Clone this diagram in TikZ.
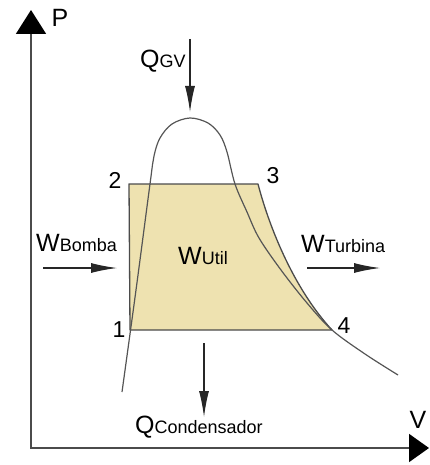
\documentclass[tikz,border=0pt]{standalone}
\usepackage{fontspec}
\setmainfont{Liberation Sans}
\usepackage{tikz}
\usetikzlibrary{arrows.meta}
\definecolor{CycleFill}{RGB}{238,226,176}
\definecolor{AxisGray}{RGB}{75,75,75}
\definecolor{CurveGray}{RGB}{85,85,85}
\newcommand{\bigsz}{\fontsize{25pt}{25pt}\selectfont}
\newcommand{\smallsz}{\fontsize{18pt}{18pt}\selectfont}
\newcommand{\flux}[2]{{\bigsz #1}{\smallsz #2}}
\tikzset{
  axis/.style={draw=AxisGray,line width=1.8pt,
    {Triangle[length=24pt,width=30pt,black]}-{Triangle[length=20pt,width=28pt,black]}},
  work/.style={fill=CycleFill,draw=AxisGray,line width=1.3pt,line join=round},
  sat/.style={draw=CurveGray,line width=1.2pt},
  flow/.style={draw=black!85,line width=1.2pt,-{Latex[length=26pt,width=10pt]}},
}
\tikzset{num/.style={inner sep=0pt,font=\fontsize{23pt}{23pt}\selectfont},
  flx/.style={inner sep=0pt,anchor=base west},axlab/.style={inner sep=0pt,font=\bigsz}}

\begin{document}
\begin{tikzpicture}[x=1pt,y=-1pt]
\useasboundingbox (0,0) rectangle (430,465);
\coordinate (ptip) at (31,10);
\coordinate (o) at (31,448);
\coordinate (vtip) at (429,448);
\coordinate (c1) at (130,330);
\coordinate (c2) at (129,184);
\coordinate (c3) at (258,184);
\coordinate (c4) at (332,330);
\coordinate (qgvA) at (190,39);
\coordinate (qgvB) at (190,112);
\coordinate (wbA) at (43,268);
\coordinate (wbB) at (117,268);
\coordinate (wtA) at (307,268);
\coordinate (wtB) at (380,268);
\coordinate (qcA) at (204,343);
\coordinate (qcB) at (204,417);
% ciclo
\draw[work] (c1) -- (c2) -- (c3) .. controls (270,230) and (295,290) .. (c4) -- cycle;
% curva de saturacion
\draw[sat] plot[smooth,tension=0.55] coordinates {(122,392) (136,290) (150,184) (154,156)
  (160,138) (172,124) (190,118) (208,123) (220,135) (227,152) (235,184) (247,212)
  (259,238) (281,270) (307,303) (332,330) (365,354) (398,375)};
\draw[axis] (ptip) -- (o) -- (vtip);
\draw[flow] (qgvA) -- (qgvB);
\draw[flow] (wbA) -- (wbB);
\draw[flow] (wtA) -- (wtB);
\draw[flow] (qcA) -- (qcB);
\node[axlab] (p) at (60,18) {P};
\node[axlab] (v) at (418,420) {V};
\node[num] (n1) at (119,330) {1};
\node[num] (n2) at (115,180) {2};
\node[num] (n3) at (273,176) {3};
\node[num] (n4) at (344,326) {4};
\node[flx] (qgv) at (140,68) {\flux{Q}{GV}};
\node[flx] (wb) at (36,251) {\flux{W}{Bomba}};
\node[flx] (wt) at (301,252) {\flux{W}{Turbina}};
\node[flx] (wu) at (178,264) {\flux{W}{Util}};
\node[flx] (qc) at (135,433) {\flux{Q}{Condensador}};
\end{tikzpicture}
\end{document}
